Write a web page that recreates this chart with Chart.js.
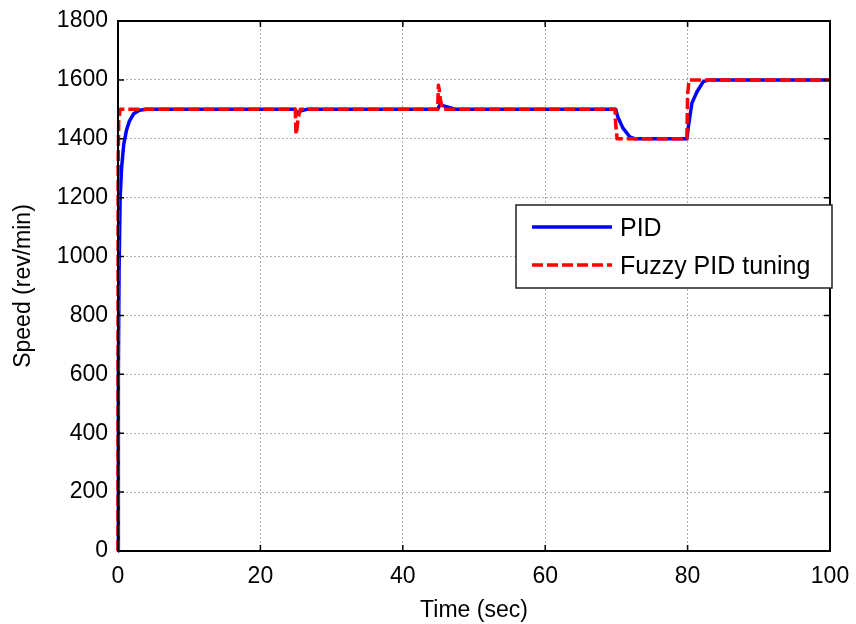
<!DOCTYPE html>
<html>
<head>
<meta charset="utf-8">
<script src="https://cdn.jsdelivr.net/npm/chart.js@4"></script>
<style>
  html, body { margin: 0; padding: 0; background: #fff; }
  #wrap { width: 856px; height: 624px; }
</style>
</head>
<body>
<div id="wrap"><canvas id="speed-chart"></canvas></div>
<script>
// --- Data ---
const pidTime  = [0, 0.05, 0.15, 0.3, 0.5, 0.8, 1.2, 1.6, 2.2, 3, 4, 24.9, 25.1, 25.6, 26.5, 44.9, 45.2, 46, 47.5, 69.9, 70.2, 70.9, 71.9, 72.6, 79.9, 80.1, 80.6, 81.3, 82.2, 83, 100];
const pidSpeed = [0, 600, 950, 1200, 1300, 1380, 1430, 1460, 1485, 1497, 1500, 1500, 1485, 1494, 1500, 1500, 1515, 1510, 1500, 1500, 1474, 1437, 1406, 1400, 1400, 1440, 1521, 1559, 1594, 1600, 1600];

const fuzzyTime  = [0, 0.02, 0.1, 0.3, 24.9, 25.0, 25.1, 25.3, 25.6, 44.9, 45.0, 45.1, 45.3, 45.6, 69.8, 69.9, 70.1, 79.9, 80.0, 80.2, 100];
const fuzzySpeed = [0, 1300, 1460, 1500, 1500, 1415, 1425, 1470, 1500, 1500, 1582, 1570, 1530, 1500, 1500, 1450, 1400, 1400, 1550, 1600, 1600];

const xTicks = [0, 20, 40, 60, 80, 100];
const yTicks = [0, 200, 400, 600, 800, 1000, 1200, 1400, 1600, 1800];

const FONT = '"Liberation Sans", Arial, sans-serif';

function toPoints(xs, ys) {
  return xs.map((x, i) => ({ x: x, y: ys[i] }));
}

// --- Box, inward ticks and legend like the MATLAB figure ---
const boxPlugin = {
  id: 'box',
  afterDatasetsDraw(chart) {
    const { ctx, chartArea: a, scales } = chart;
    ctx.save();
    ctx.strokeStyle = '#000';
    ctx.lineWidth = 2;
    ctx.strokeRect(a.left, a.top, a.right - a.left, a.bottom - a.top);
    ctx.lineWidth = 1.5;
    ctx.beginPath();
    xTicks.forEach(v => {
      const px = scales.x.getPixelForValue(v);
      ctx.moveTo(px, a.bottom); ctx.lineTo(px, a.bottom - 6);
      ctx.moveTo(px, a.top); ctx.lineTo(px, a.top + 6);
    });
    yTicks.forEach(v => {
      const py = scales.y.getPixelForValue(v);
      ctx.moveTo(a.left, py); ctx.lineTo(a.left + 6, py);
      ctx.moveTo(a.right, py); ctx.lineTo(a.right - 6, py);
    });
    ctx.stroke();

    // legend
    const lx = 516, ly = 205, lw = 316, lh = 83;
    ctx.fillStyle = '#fff';
    ctx.fillRect(lx, ly, lw, lh);
    ctx.strokeStyle = '#222';
    ctx.lineWidth = 1.5;
    ctx.strokeRect(lx, ly, lw, lh);
    ctx.font = '25px ' + FONT;
    ctx.textBaseline = 'middle';
    chart.data.datasets.forEach((ds, i) => {
      const y = ly + 22 + i * 38;
      ctx.strokeStyle = ds.borderColor;
      ctx.lineWidth = 3.5;
      ctx.setLineDash(ds.borderDash || []);
      ctx.beginPath();
      ctx.moveTo(lx + 16, y);
      ctx.lineTo(lx + 96, y);
      ctx.stroke();
      ctx.setLineDash([]);
      ctx.fillStyle = '#000';
      ctx.fillText(ds.label, lx + 104, y + 2);
    });
    ctx.restore();
  }
};

new Chart(document.getElementById('speed-chart'), {
  type: 'line',
  data: {
    datasets: [
      {
        label: 'PID',
        data: toPoints(pidTime, pidSpeed),
        borderColor: '#0000ff',
        borderWidth: 3.5,
        borderJoinStyle: 'round',
        pointRadius: 0,
        tension: 0,
        clip: false,
        order: 2
      },
      {
        label: 'Fuzzy PID tuning',
        data: toPoints(fuzzyTime, fuzzySpeed),
        borderColor: '#ff0000',
        borderWidth: 3.5,
        borderDash: [11, 4],
        borderJoinStyle: 'round',
        pointRadius: 0,
        tension: 0,
        clip: false,
        order: 1
      }
    ]
  },
  options: {
    responsive: true,
    maintainAspectRatio: false,
    animation: false,
    layout: { padding: { left: 0, right: 26, top: 21, bottom: 0 } },
    plugins: {
      legend: { display: false },
      tooltip: { enabled: false }
    },
    scales: {
      x: {
        type: 'linear',
        min: 0,
        max: 100,
        afterBuildTicks: s => { s.ticks = xTicks.map(v => ({ value: v })); },
        afterFit: s => { s.height = 73; s.paddingLeft = 0; s.paddingRight = 0; },
        grid: { color: '#b0b0b0', lineWidth: 1, drawTicks: false },
        border: { display: false, dash: [2, 2] },
        ticks: { color: '#000', font: { family: FONT, size: 23 }, padding: 12, maxRotation: 0, callback: v => String(v) },
        title: { display: true, text: 'Time (sec)', color: '#000', font: { family: FONT, size: 23 }, padding: { top: 0, bottom: 0 } }
      },
      y: {
        min: 0,
        max: 1800,
        afterBuildTicks: s => { s.ticks = yTicks.map(v => ({ value: v })); },
        afterFit: s => { s.width = 118; s.paddingTop = 0; s.paddingBottom = 0; },
        grid: { color: '#b0b0b0', lineWidth: 1, drawTicks: false },
        border: { display: false, dash: [2, 2] },
        ticks: { color: '#000', font: { family: FONT, size: 23 }, padding: 10, callback: v => String(v) },
        title: { display: true, text: 'Speed (rev/min)', color: '#000', font: { family: FONT, size: 23 }, padding: { top: 10, bottom: 0 } }
      }
    }
  },
  plugins: [boxPlugin]
});
</script>
</body>
</html>
